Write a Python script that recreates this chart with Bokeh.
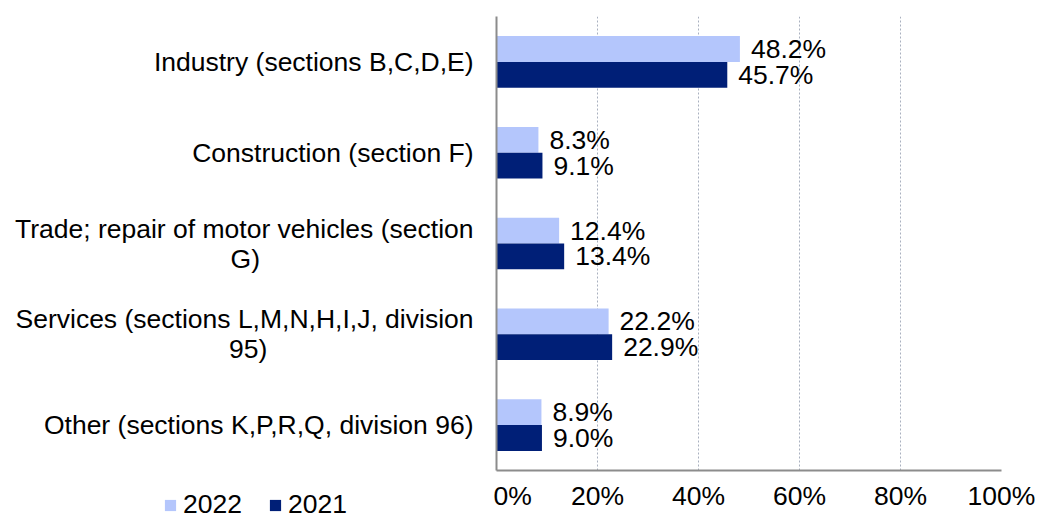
from bokeh.plotting import figure
from bokeh.layouts import row, column
from bokeh.models import (ColumnDataSource, FactorRange, Range1d, FixedTicker,
                          PrintfTickFormatter, Legend, LegendItem)
from bokeh.transform import dodge
from bokeh.core.properties import value
from bokeh.embed import file_html
from bokeh.resources import INLINE

NB = "\u00a0"
categories = [
    "Industry (sections B,C,D,E)",
    "Construction (section F)",
    "Trade; repair of motor vehicles (section\nG)" + NB * 29,
    "Services (sections L,M,N,H,I,J, division\n95)" + NB * 28,
    "Other (sections K,P,R,Q, division 96)",
]
values_2022 = [48.2, 8.3, 12.4, 22.2, 8.9]
values_2021 = [45.7, 9.1, 13.4, 22.9, 9.0]
series = ["2022", "2021"]
x_ticks = [0, 20, 40, 60, 80, 100]

FONT = "Liberation Sans"
FS = "26.5px"
C22 = "#B4C6FC"
C21 = "#001F77"

src = ColumnDataSource(dict(
    cat=categories,
    v22=values_2022,
    v21=values_2021,
    l22=[f"{v:.1f}%" for v in values_2022],
    l21=[f"{v:.1f}%" for v in values_2021],
))

yr = FactorRange(factors=list(reversed(categories)))

# ---- main bar chart ----
p = figure(width=544, height=513, output_backend="svg", toolbar_location=None,
           y_range=yr, x_range=Range1d(0, 100),
           min_border_left=3, min_border_right=36, min_border_top=16,
           min_border_bottom=43)
p.outline_line_color = None

bw = 0.284
r22 = p.hbar(y=dodge("cat", 0.142, range=yr), right="v22", left=0, height=bw,
             source=src, fill_color=C22, line_color=None)
r21 = p.hbar(y=dodge("cat", -0.142, range=yr), right="v21", left=0, height=bw,
             source=src, fill_color=C21, line_color=None)

p.text(x="v22", y=dodge("cat", 0.142, range=yr), text="l22", source=src,
       x_offset=11, text_baseline="middle", text_align="left",
       text_font=value(FONT), text_font_size=FS, text_color="black")
p.text(x="v21", y=dodge("cat", -0.142, range=yr), text="l21", source=src,
       x_offset=11, text_baseline="middle", text_align="left",
       text_font=value(FONT), text_font_size=FS, text_color="black")

p.xaxis.ticker = FixedTicker(ticks=x_ticks)
p.xaxis.formatter = PrintfTickFormatter(format="%d%%")
for ax in (p.xaxis[0], p.yaxis[0]):
    ax.axis_line_color = "#8C8C8C"
    ax.axis_line_width = 2
    ax.major_tick_line_color = None
    ax.minor_tick_line_color = None
    ax.major_tick_out = 0
    ax.major_tick_in = 0
    ax.major_label_text_font = FONT
    ax.major_label_text_color = "black"
p.xaxis.major_label_text_font_size = FS
p.xaxis.major_label_standoff = 10
# category names are drawn in the left label figure; hide them on this axis
p.yaxis.major_label_text_font_size = "0px"
p.yaxis.major_label_standoff = 0

p.ygrid.grid_line_color = None
p.xgrid.ticker = FixedTicker(ticks=[20, 40, 60, 80, 100])
p.xgrid.grid_line_color = "#A9B0BF"
p.xgrid.grid_line_dash = "2 2"
p.xgrid.grid_line_width = 1

# ---- category labels (left) ----
lab = figure(width=493, height=490, output_backend="svg", toolbar_location=None,
             y_range=yr, x_range=Range1d(0, 1), x_axis_type=None, y_axis_type=None,
             min_border_left=0, min_border_right=0, min_border_top=16,
             min_border_bottom=20)
lab.outline_line_color = None
lab.grid.visible = False
lab.text(x=1, y="cat", text="cat", source=src, x_offset=-20,
         text_align="right", text_baseline="middle", text_line_height=1.0,
         text_font=value(FONT), text_font_size=FS, text_color="black")

# ---- legend (bottom left) ----
leg = figure(width=493, height=23, output_backend="svg", toolbar_location=None,
             x_axis_type=None, y_axis_type=None, x_range=Range1d(-2, -1),
             y_range=FactorRange(factors=list(reversed(categories))),
             min_border_left=0, min_border_right=0, min_border_top=0,
             min_border_bottom=0)
leg.outline_line_color = None
leg.grid.visible = False
d22 = leg.hbar(y="cat", right="v22", left=0, height=bw, source=src,
               fill_color=C22, line_color=None)
d21 = leg.hbar(y="cat", right="v21", left=0, height=bw, source=src,
               fill_color=C21, line_color=None)
legend = Legend(items=[LegendItem(label=series[0], renderers=[d22]),
                       LegendItem(label=series[1], renderers=[d21])],
                orientation="horizontal", location=(163, -7),
                label_text_font=FONT, label_text_font_size=FS,
                label_text_color="black",
                glyph_width=14, glyph_height=14, label_standoff=6, spacing=26,
                padding=0, margin=0, border_line_color=None,
                background_fill_alpha=0)
leg.add_layout(legend, "center")

layout = row(column(lab, leg), p)
open("out.html", "w").write(file_html(layout, INLINE))
